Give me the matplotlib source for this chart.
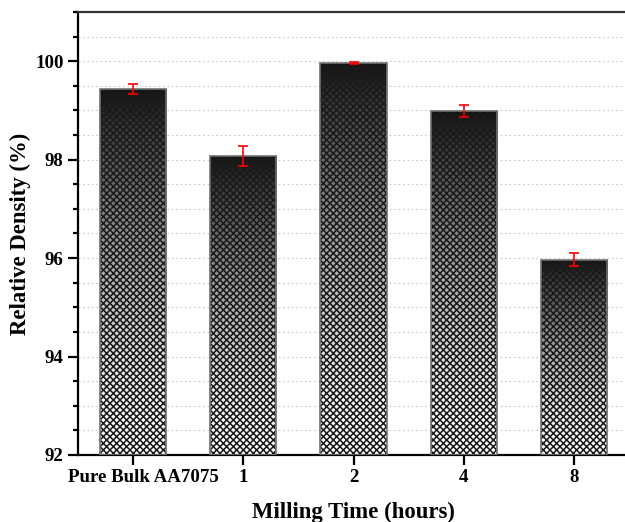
import numpy as np
import matplotlib
matplotlib.use('Agg')
import matplotlib.pyplot as plt
import matplotlib.transforms as mtransforms
from matplotlib.ticker import MultipleLocator

# data
labels = ['Pure Bulk AA7075', '1', '2', '4', '8']
density = [99.43, 98.08, 99.97, 98.98, 95.97]
errors = [0.10, 0.20, 0.02, 0.12, 0.14]

plt.rcParams['font.family'] = ['Liberation Serif', 'DejaVu Serif']
plt.rcParams['font.weight'] = 'bold'
plt.rcParams['hatch.linewidth'] = 1.4

DPI = 80
fig = plt.figure(figsize=(625 / DPI, 522 / DPI), dpi=DPI)
ax = fig.add_axes([0.1248, 0.1284, 0.8816, 0.8487])

ymin = 92
x = np.arange(len(labels))
width = 0.6
heights = np.array(density) - ymin

# vertical gradient, white at the bottom to near black at the top of each bar
f = np.linspace(0, 1, 256)
grad = (1 - 0.93 * f ** 1.5).reshape(-1, 1)
bars = ax.bar(x, heights, width, bottom=ymin, facecolor='none',
              edgecolor='#1a1a1a', linewidth=0, hatch='xxxx', zorder=3)
for b in bars:
    x0, y0 = b.get_x(), b.get_y()
    im = ax.imshow(grad, cmap='gray', vmin=0, vmax=1, origin='lower',
                   extent=(x0, x0 + b.get_width(), y0, y0 + b.get_height()),
                   aspect='auto', zorder=2, interpolation='bilinear')
    im.set_clip_path(b)
# grey outline round each bar
ax.bar(x, heights, width, bottom=ymin, facecolor='none',
       edgecolor='#707070', linewidth=1.5, zorder=3.5)

ax.errorbar(x, density, yerr=errors, fmt='none', ecolor='red',
            elinewidth=1.5, capsize=4.5, capthick=1.5, zorder=4)

ax.set_xlim(-0.5, 4.5)
ax.set_ylim(ymin, 101)
ax.yaxis.set_major_locator(MultipleLocator(2))
ax.yaxis.set_minor_locator(MultipleLocator(0.5))
ax.set_xticks(x)
ax.set_xticklabels(labels)

ax.grid(True, axis='y', which='both', linestyle=(0, (1.5, 2.5)),
        color='#c8c8c8', linewidth=1.0, zorder=0)
ax.set_axisbelow(True)

ax.spines['right'].set_visible(False)
ax.spines['left'].set_linewidth(2)
ax.spines['bottom'].set_linewidth(2)
ax.spines['top'].set_linewidth(2)
ax.spines['top'].set_color('#333333')

ax.tick_params(axis='both', which='major', direction='out', length=9,
               width=2, labelsize=17, pad=4)
ax.tick_params(axis='y', which='minor', direction='out', length=4.5, width=2)
ax.tick_params(axis='x', which='minor', bottom=False)
ax.tick_params(top=False, right=False)

# the long first label sits a little right of its tick in the original
first = ax.xaxis.get_major_ticks()[0].label1
first.set_transform(first.get_transform() +
                    mtransforms.ScaledTranslation(10 / DPI, 0, fig.dpi_scale_trans))

ax.set_ylabel('Relative Density (%)', fontsize=20.5, fontweight='bold', labelpad=4)
ax.set_xlabel('Milling Time (hours)', fontsize=20.5, fontweight='bold', labelpad=14)

fig.savefig('out.png', dpi=DPI)
